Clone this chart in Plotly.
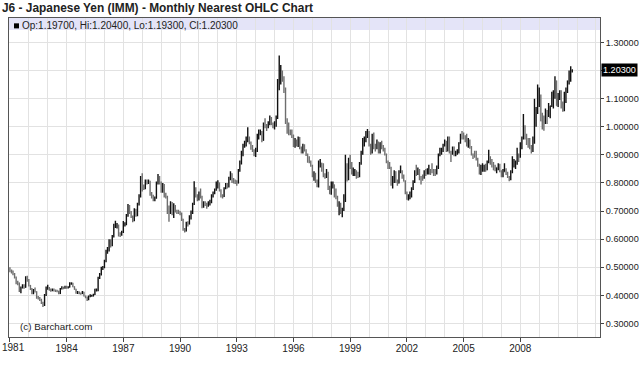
import pandas as pd
import plotly.graph_objects as go

# Monthly OHLC, Jan 1981 .. Oct 2010 (one line per year)
opens = [
    .495,.488,.485,.476,.465,.444,.444,.418,.429,.433,.429,.465,
    .455,.435,.424,.407,.420,.413,.392,.389,.386,.372,.368,.400,
    .426,.426,.422,.418,.422,.418,.417,.415,.407,.424,.429,.426,
    .431,.427,.429,.444,.444,.431,.422,.408,.413,.407,.407,.412,
    .398,.394,.385,.397,.398,.398,.403,.422,.422,.461,.474,.498,
    .500,.521,.556,.559,.595,.578,.610,.649,.649,.649,.617,.617,
    .625,.654,.654,.685,.714,.694,.680,.667,.704,.685,.725,.752,
    .820,.781,.781,.806,.800,.806,.758,.752,.741,.746,.800,.820,
    .800,.769,.794,.752,.752,.694,.694,.730,.690,.719,.699,.699,
    .699,.690,.671,.633,.629,.658,.654,.680,.694,.725,.775,.752,
    .741,.763,.752,.714,.730,.725,.725,.730,.730,.752,.763,.775,
    .800,.800,.775,.752,.752,.781,.794,.787,.813,.833,.813,.806,
    .806,.800,.847,.870,.901,.935,.935,.952,.962,.943,.926,.917,
    .901,.917,.962,.980,.980,.952,1.010,1.000,1.000,1.010,1.031,1.010,
    1.000,1.010,1.031,1.136,1.190,1.190,1.176,1.136,1.020,1.000,.980,.980,
    .971,.935,.952,.935,.962,.926,.909,.935,.917,.901,.877,.877,
    .862,.826,.833,.806,.787,.862,.870,.847,.826,.826,.833,.781,
    .769,.787,.794,.752,.752,.719,.725,.694,.709,.735,.862,.813,
    .885,.862,.833,.840,.840,.826,.826,.870,.909,.943,.952,.980,
    .980,.935,.909,.971,.926,.926,.943,.909,.943,.926,.917,.901,
    .877,.862,.855,.794,.806,.840,.806,.800,.840,.840,.820,.806,
    .763,.741,.746,.752,.781,.806,.840,.833,.847,.820,.820,.820,
    .840,.833,.847,.847,.840,.840,.833,.833,.855,.901,.909,.917,
    .935,.943,.917,.962,.909,.909,.917,.901,.909,.909,.943,.971,
    .962,.962,.952,.935,.952,.926,.901,.893,.893,.885,.862,.833,
    .847,.855,.862,.847,.877,.893,.877,.870,.847,.847,.855,.862,
    .840,.826,.840,.847,.833,.820,.813,.840,.862,.870,.870,.901,
    .893,.935,.962,1.000,.962,.943,.943,.926,.917,.943,1.020,1.053,
    1.099,1.111,1.020,1.020,1.020,1.053,1.042,1.053,1.075,1.111,1.111,1.163,
    1.075,1.111,1.124,1.075,1.064,1.099,1.136,1.163,1.190,1.197,
]
highs = [
    .500,.492,.489,.480,.467,.452,.446,.432,.440,.440,.468,.470,
    .458,.437,.426,.423,.428,.415,.398,.394,.388,.377,.405,.432,
    .438,.430,.425,.425,.425,.421,.420,.417,.426,.433,.431,.434,
    .434,.433,.447,.446,.445,.433,.424,.416,.414,.410,.416,.413,
    .400,.396,.400,.404,.402,.406,.424,.425,.466,.480,.502,.505,
    .527,.562,.572,.600,.600,.615,.655,.666,.658,.652,.625,.630,
    .665,.660,.690,.725,.722,.700,.684,.710,.708,.730,.760,.825,
    .835,.795,.812,.812,.812,.808,.768,.758,.752,.805,.832,.825,
    .805,.800,.796,.765,.755,.720,.735,.732,.728,.722,.705,.705,
    .700,.695,.673,.640,.662,.664,.685,.702,.730,.806,.785,.760,
    .770,.780,.755,.735,.735,.730,.735,.740,.760,.770,.780,.805,
    .810,.802,.778,.760,.785,.800,.800,.822,.842,.835,.818,.812,
    .810,.850,.880,.915,.940,.950,.965,.998,.965,.948,.935,.920,
    .925,.975,.990,.990,.985,1.015,1.030,1.010,1.020,1.040,1.035,1.015,
    1.020,1.040,1.170,1.254,1.220,1.200,1.180,1.140,1.030,1.015,.990,.990,
    .972,.960,.955,.965,.964,.930,.940,.938,.920,.905,.895,.880,
    .865,.842,.836,.812,.880,.885,.872,.870,.835,.850,.840,.790,
    .805,.805,.795,.780,.755,.735,.730,.712,.760,.900,.870,.890,
    .900,.875,.855,.850,.845,.840,.875,.915,.960,.965,.985,.992,
    .985,.940,.975,.980,.940,.955,.948,.945,.950,.935,.925,.905,
    .880,.875,.858,.825,.845,.842,.812,.845,.862,.845,.830,.810,
    .770,.760,.770,.785,.810,.845,.865,.855,.850,.825,.830,.845,
    .850,.852,.865,.850,.870,.850,.850,.862,.905,.925,.925,.940,
    .955,.950,.965,.965,.915,.930,.930,.915,.920,.945,.975,.985,
    .980,.970,.975,.960,.955,.932,.905,.915,.915,.890,.868,.865,
    .870,.865,.868,.880,.918,.895,.885,.875,.865,.855,.870,.868,
    .845,.850,.870,.852,.840,.825,.845,.895,.885,.880,.925,.905,
    .945,.965,1.045,1.005,.975,.960,.960,.935,.965,1.100,1.070,1.150,
    1.140,1.115,1.050,1.040,1.065,1.060,1.085,1.075,1.125,1.130,1.180,1.165,
    1.120,1.130,1.130,1.090,1.125,1.140,1.165,1.200,1.215,1.204,
]
lows = [
    .482,.478,.472,.460,.440,.436,.412,.408,.425,.424,.427,.449,
    .432,.419,.404,.404,.410,.388,.385,.380,.369,.359,.362,.398,
    .420,.417,.413,.415,.414,.412,.411,.404,.405,.421,.422,.424,
    .424,.425,.428,.438,.429,.420,.406,.405,.404,.402,.405,.396,
    .390,.380,.383,.393,.395,.396,.401,.414,.415,.458,.471,.490,
    .497,.518,.548,.556,.570,.575,.606,.640,.638,.610,.608,.612,
    .622,.645,.650,.680,.690,.675,.660,.664,.680,.682,.720,.748,
    .770,.775,.778,.795,.796,.755,.745,.735,.735,.744,.795,.795,
    .765,.765,.748,.745,.690,.662,.690,.685,.675,.695,.690,.690,
    .685,.665,.630,.624,.627,.645,.652,.670,.690,.722,.748,.735,
    .738,.745,.710,.712,.718,.708,.715,.720,.728,.748,.760,.772,
    .780,.770,.748,.745,.750,.778,.780,.784,.810,.800,.798,.796,
    .790,.798,.840,.866,.895,.925,.930,.945,.938,.918,.910,.895,
    .892,.910,.955,.970,.945,.950,.995,.985,.995,1.005,1.005,.995,
    .990,1.000,1.028,1.130,1.150,1.160,1.120,1.010,.975,.970,.970,.960,
    .928,.925,.930,.928,.920,.905,.905,.912,.896,.872,.870,.858,
    .820,.808,.800,.785,.784,.855,.840,.820,.815,.818,.775,.760,
    .758,.780,.748,.742,.715,.685,.690,.678,.700,.732,.805,.810,
    .850,.830,.825,.825,.815,.818,.820,.865,.900,.930,.945,.960,
    .930,.900,.905,.920,.912,.920,.905,.905,.920,.912,.898,.870,
    .850,.850,.790,.780,.800,.800,.790,.798,.835,.815,.805,.760,
    .740,.738,.742,.748,.775,.800,.825,.828,.810,.795,.808,.815,
    .825,.830,.830,.828,.835,.825,.825,.830,.850,.895,.900,.910,
    .930,.910,.912,.905,.875,.900,.895,.895,.900,.905,.940,.955,
    .955,.945,.930,.925,.922,.898,.885,.890,.880,.858,.830,.828,
    .840,.840,.840,.845,.870,.865,.855,.845,.842,.835,.845,.838,
    .820,.820,.840,.828,.818,.806,.810,.835,.855,.850,.865,.875,
    .890,.920,.955,.955,.935,.925,.920,.905,.910,.940,1.000,1.045,
    1.070,1.020,.990,.986,1.010,1.010,1.035,1.030,1.070,1.065,1.100,1.075,
    1.070,1.095,1.065,1.053,1.055,1.085,1.120,1.150,1.160,1.193,
]
closes = [
    .488,.485,.476,.465,.444,.444,.418,.429,.433,.429,.465,.455,
    .435,.424,.407,.420,.413,.392,.389,.386,.372,.368,.400,.426,
    .426,.422,.418,.422,.418,.417,.415,.407,.424,.429,.426,.431,
    .427,.429,.444,.444,.431,.422,.408,.413,.407,.407,.412,.398,
    .394,.385,.397,.398,.398,.403,.422,.422,.461,.474,.498,.500,
    .521,.556,.559,.595,.578,.610,.649,.649,.649,.617,.617,.625,
    .654,.654,.685,.714,.694,.680,.667,.704,.685,.725,.752,.820,
    .781,.781,.806,.800,.806,.758,.752,.741,.746,.800,.820,.800,
    .769,.794,.752,.752,.694,.694,.730,.690,.719,.699,.699,.699,
    .690,.671,.633,.629,.658,.654,.680,.694,.725,.775,.752,.741,
    .763,.752,.714,.730,.725,.725,.730,.730,.752,.763,.775,.800,
    .800,.775,.752,.752,.781,.794,.787,.813,.833,.813,.806,.806,
    .800,.847,.870,.901,.935,.935,.952,.962,.943,.926,.917,.901,
    .917,.962,.980,.980,.952,1.010,1.000,1.000,1.010,1.031,1.010,1.000,
    1.010,1.031,1.136,1.190,1.190,1.176,1.136,1.020,1.000,.980,.980,.971,
    .935,.952,.935,.962,.926,.909,.935,.917,.901,.877,.877,.862,
    .826,.833,.806,.787,.862,.870,.847,.826,.826,.833,.781,.769,
    .787,.794,.752,.752,.719,.725,.694,.709,.735,.862,.813,.885,
    .862,.833,.840,.840,.826,.826,.870,.909,.943,.952,.980,.980,
    .935,.909,.971,.926,.926,.943,.909,.943,.926,.917,.901,.877,
    .862,.855,.794,.806,.840,.806,.800,.840,.840,.820,.806,.763,
    .741,.746,.752,.781,.806,.840,.833,.847,.820,.820,.820,.840,
    .833,.847,.847,.840,.840,.833,.833,.855,.901,.909,.917,.935,
    .943,.917,.962,.909,.909,.917,.901,.909,.909,.943,.971,.962,
    .962,.952,.935,.952,.926,.901,.893,.893,.885,.862,.833,.847,
    .855,.862,.847,.877,.893,.877,.870,.847,.847,.855,.862,.840,
    .826,.840,.847,.833,.820,.813,.840,.862,.870,.870,.901,.893,
    .935,.962,1.000,.962,.943,.943,.926,.917,.943,1.020,1.053,1.099,
    1.111,1.020,1.020,1.020,1.053,1.042,1.053,1.075,1.111,1.111,1.163,1.075,
    1.111,1.124,1.075,1.064,1.099,1.136,1.163,1.190,1.197,1.203,
]
start_month = "1981-01-01"

x_tick_dates = ["1981-01-01", "1984-01-01", "1987-01-01", "1990-01-01", "1993-01-01",
                "1996-01-01", "1999-01-01", "2002-01-01", "2005-01-01", "2008-01-01"]
x_tick_text = ["", "1984", "1987", "1990", "1993", "1996", "1999", "2002", "2005", "2008"]
first_year_label = "1981"
y_tick_vals = [0.3, 0.4, 0.5, 0.6, 0.7, 0.8, 0.9, 1.0, 1.1, 1.2, 1.3]
y_tick_text = ["0.30000", "0.40000", "0.50000", "0.60000", "0.70000", "0.80000",
               "0.90000", "1.00000", "1.10000", "", "1.30000"]
last_label = "1.20300"
last_value = 1.203
legend_text = "Op:1.19700, Hi:1.20400, Lo:1.19300, Cl:1.20300"
title_text = "J6 - Japanese Yen (IMM) - Monthly Nearest OHLC Chart"

dates = pd.date_range(start_month, periods=len(closes), freq="MS")

FONT = "Liberation Sans, Arial, sans-serif"
Y_MIN, Y_MAX = 0.252, 1.387
PW, PH = 591, 319

fig = go.Figure()
fig.add_trace(go.Ohlc(
    x=dates, open=opens, high=highs, low=lows, close=closes,
    increasing=dict(line=dict(color="#111111", width=1.4)),
    decreasing=dict(line=dict(color="#6e6e6e", width=1.4)),
    tickwidth=0.3, hoverinfo="skip", showlegend=False,
))

# lavender header band
fig.add_shape(type="rect", xref="paper", yref="y", x0=0, x1=1, y0=1.344, y1=Y_MAX,
              fillcolor="#e4e4f8", line=dict(width=0), layer="below")
# legend marker square
fig.add_shape(type="rect", xref="paper", yref="y",
              x0=5 / PW, x1=10 / PW, y0=1.350, y1=1.368,
              fillcolor="#000000", line=dict(width=0))

fig.add_annotation(xref="paper", yref="y", x=11 / PW, y=1.3605, text=legend_text,
                   showarrow=False, xanchor="left", yanchor="middle",
                   font=dict(family=FONT, size=10, color="#222"))
fig.add_annotation(xref="paper", yref="y", x=1, y=last_value, text=last_label,
                   showarrow=False, xanchor="left", yanchor="middle", xshift=1,
                   bgcolor="#000000", borderpad=1,
                   font=dict(family=FONT, size=9.1, color="#ffffff"))
fig.add_annotation(xref="paper", yref="paper", x=9 / PW, y=11 / PH,
                   text="(c) Barchart.com", showarrow=False,
                   xanchor="left", yanchor="middle",
                   font=dict(family=FONT, size=9.8, color="#222"))
fig.add_annotation(xref="paper", yref="paper", x=4 / PW, y=-10 / PH,
                   text=first_year_label, showarrow=False,
                   xanchor="center", yanchor="middle",
                   font=dict(family=FONT, size=10, color="#222"))

fig.update_layout(
    template="none",
    width=640, height=375,
    margin=dict(l=9, r=40, t=18, b=38, autoexpand=False),
    paper_bgcolor="#ffffff", plot_bgcolor="#ffffff",
    title=dict(text="<b>" + title_text + "</b>", x=2 / 640, xref="container",
               xanchor="left", y=1 - 8 / 375, yref="container", yanchor="middle",
               font=dict(family=FONT, size=11.9, color="#222")),
    xaxis=dict(
        type="date", range=["1980-12-14", "2012-03-20"], automargin=False,
        rangeslider=dict(visible=False),
        tickvals=x_tick_dates, ticktext=x_tick_text,
        ticks="outside", ticklen=4, tickcolor="#444", ticklabelstandoff=-2,
        showgrid=True, gridcolor="#e2e2e2", gridwidth=1,
        minor=dict(dtick="M12", tick0="1981-01-01", showgrid=True,
                   gridcolor="#e2e2e2", ticks=""),
        showline=True, linecolor="#555", linewidth=1, mirror=True,
        tickfont=dict(family=FONT, size=10, color="#222"),
        zeroline=False,
    ),
    yaxis=dict(
        side="right", range=[Y_MIN, Y_MAX], automargin=False,
        tickvals=y_tick_vals, ticktext=y_tick_text,
        ticks="outside", ticklen=3, tickcolor="#444", ticklabelstandoff=0,
        showgrid=True, gridcolor="#e2e2e2", gridwidth=1,
        showline=True, linecolor="#555", linewidth=1, mirror=True,
        tickfont=dict(family=FONT, size=9.1, color="#222"),
        zeroline=False,
    ),
)

fig.write_html("out.html", config={"displayModeBar": False},
               post_script="document.body.style.margin='0';")
